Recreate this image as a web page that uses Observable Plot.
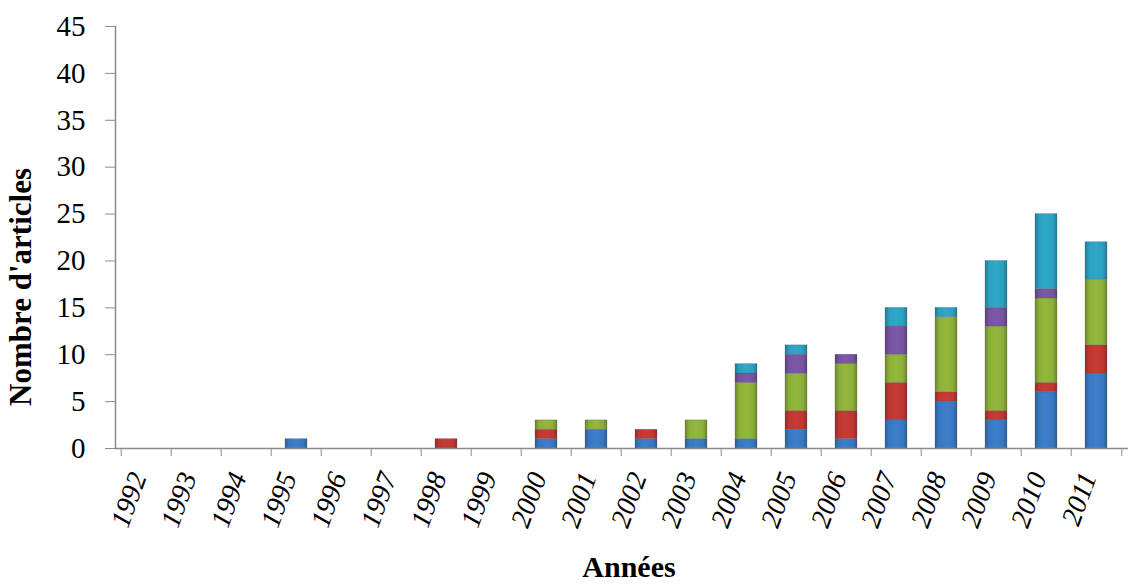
<!DOCTYPE html>
<html>
<head>
<meta charset="utf-8">
<script src="https://cdn.jsdelivr.net/npm/d3@7"></script>
<script src="https://cdn.jsdelivr.net/npm/@observablehq/plot@0.6"></script>
<style>
  html, body { margin: 0; padding: 0; background: #fff; }
  #chart { width: 1131px; height: 584px; }
</style>
</head>
<body>
<div id="chart"></div>
<script>
const years = ["1992","1993","1994","1995","1996","1997","1998","1999","2000","2001","2002","2003","2004","2005","2006","2007","2008","2009","2010","2011"];
const seriesNames = ["Série 1","Série 2","Série 3","Série 4","Série 5"];
const serie1 = [0,0,0,1,0,0,0,0,1,2,1,1,1,2,1,3,5,3,6,8];
const serie2 = [0,0,0,0,0,0,1,0,1,0,1,0,0,2,3,4,1,1,1,3];
const serie3 = [0,0,0,0,0,0,0,0,1,1,0,2,6,4,5,3,8,9,9,7];
const serie4 = [0,0,0,0,0,0,0,0,0,0,0,0,1,2,1,3,0,2,1,0];
const serie5 = [0,0,0,0,0,0,0,0,0,0,0,0,1,1,0,2,1,5,8,4];
const yTicks = [0,5,10,15,20,25,30,35,40,45];
const baseColors = ["#3c7fcc","#c83a35","#93b83c","#7c58a8","#2ea8c9"];

const allSeries = [serie1, serie2, serie3, serie4, serie5];
const data = [];
seriesNames.forEach((s, i) => years.forEach((y, j) => {
  if (allSeries[i][j] > 0) data.push({year: y, serie: s, value: allSeries[i][j]});
}));

const W = 1131, H = 584;
const mL = 115, mR = 3, mT = 26, mB = 136;
const bw = (W - mL - mR) / years.length;
const serif = "'Liberation Serif', 'Times New Roman', serif";

const chart = Plot.plot({
  width: W, height: H,
  marginLeft: mL, marginRight: mR, marginTop: mT, marginBottom: mB,
  style: {fontFamily: serif, background: "#fff"},
  x: {domain: years, paddingInner: 0.56, paddingOuter: 0.28, label: null},
  y: {domain: [0, 45], label: null},
  color: {domain: seriesNames, range: seriesNames.map((s, i) => `url(#grad${i})`)},
  marks: [
    Plot.barY(data, {x: "year", y: "value", fill: "serie", order: seriesNames, stroke: "#555", strokeOpacity: 0.35, strokeWidth: 0.7}),
    Plot.ruleY([0], {stroke: "#8c8c8c", strokeWidth: 1.5}),
    Plot.frame({anchor: "left", stroke: "#8c8c8c", strokeWidth: 1.5}),
    Plot.axisY({ticks: yTicks, tickSize: 10, tickPadding: 20, stroke: "#8c8c8c", fontSize: 29, fill: "#000", label: null, tickFormat: d => String(d)}),
    Plot.axisX({tickSize: 8, dx: -bw / 2, tickFormat: () => "", stroke: "#8c8c8c", label: null}),
    Plot.axisX({ticks: [years[years.length - 1]], tickSize: 8, dx: bw / 2, tickFormat: () => "", stroke: "#8c8c8c", label: null}),
    Plot.axisX({tickSize: 0, tickRotate: -70, tickPadding: 25, dx: -8, fontSize: 28, fontStyle: "italic", fill: "#000", label: null})
  ]
});

const svg = d3.select(chart);
const defs = svg.insert("defs", ":first-child");
baseColors.forEach((c, i) => {
  const g = defs.append("linearGradient").attr("id", `grad${i}`).attr("x1", "0").attr("x2", "1").attr("y1", "0").attr("y2", "0");
  const dark = d3.color(c).darker(0.9).formatHex();
  const mid = d3.color(c).darker(0.15).formatHex();
  g.append("stop").attr("offset", "0%").attr("stop-color", dark);
  g.append("stop").attr("offset", "18%").attr("stop-color", mid);
  g.append("stop").attr("offset", "50%").attr("stop-color", c);
  g.append("stop").attr("offset", "82%").attr("stop-color", mid);
  g.append("stop").attr("offset", "100%").attr("stop-color", dark);
});

svg.append("text")
  .attr("transform", `translate(24, 287) rotate(-90)`)
  .attr("text-anchor", "middle")
  .attr("dominant-baseline", "middle")
  .style("font-family", serif)
  .style("font-weight", "bold").style("font-size", "31px")
  .text("Nombre d'articles");

svg.append("text")
  .attr("x", 629)
  .attr("y", 577)
  .attr("text-anchor", "middle")
  .style("font-family", serif)
  .style("font-weight", "bold").style("font-size", "30px")
  .text("Années");

document.getElementById("chart").appendChild(chart);
</script>
</body>
</html>
